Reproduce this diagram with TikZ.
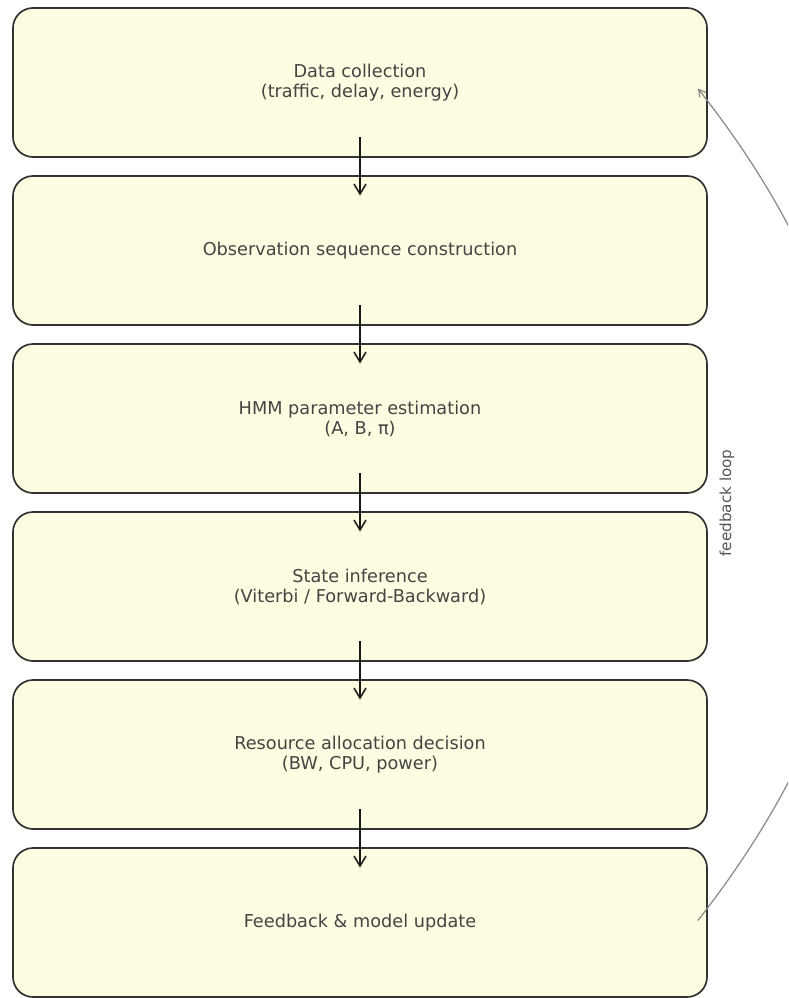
\documentclass[tikz,border=0pt]{standalone}
\usepackage{fontspec}
\setmainfont{DejaVu Sans}
\usetikzlibrary{arrows.meta}
\definecolor{boxfill}{HTML}{FFFDE1}
\definecolor{boxedge}{HTML}{333333}
\definecolor{txt}{HTML}{444444}
\definecolor{fbgray}{HTML}{888888}
\definecolor{fbtxt}{HTML}{555555}
\begin{document}
\begin{tikzpicture}[x=1pt,y=-1pt,
  stepbox/.style={draw=boxedge, line width=1.7pt, fill=boxfill, rounded corners=20pt,
    minimum width=694pt, minimum height=149pt, align=center, text=txt,
    font=\fontsize{17.7}{20}\selectfont, inner sep=0pt},
  flowarrow/.style={-{Straight Barb[length=10pt,width=12pt]}, line width=1.5pt, draw=black!90},
  fbarrow/.style={-{Straight Barb[length=7pt,width=8pt]}, line width=1.2pt, draw=fbgray},
  fblabel/.style={rotate=90, text=fbtxt, font=\fontsize{15.2}{17}\selectfont, inner sep=0pt}]
\useasboundingbox (0,0) rectangle (788,998);
\clip (0,0) rectangle (788,998);
\node[stepbox] (b1) at (360,82.5) {Data collection\\(traffic, delay, energy)};
\node[stepbox] (b2) at (360,250.5) {Observation sequence construction};
\node[stepbox] (b3) at (360,418.5) {HMM parameter estimation\\(A, B, π)};
\node[stepbox] (b4) at (360,586.5) {State inference\\(Viterbi / Forward-Backward)};
\node[stepbox] (b5) at (360,754.5) {Resource allocation decision\\(BW, CPU, power)};
\node[stepbox] (b6) at (360,922.5) {Feedback \& model update};
\foreach \a/\b in {b1/b2,b2/b3,b3/b4,b4/b5,b5/b6}{
  \draw[flowarrow] ([yshift=-54.5pt]\a.center) -- ([yshift=55pt]\b.center);
}
\coordinate (fbs) at ([xshift=-10pt,yshift=2pt]b6.east);
\coordinate (fbe) at ([xshift=-10pt,yshift=-6pt]b1.east);
\draw[fbarrow] (fbs) .. controls (916,642) and (916,365) .. (fbe);
\node[fblabel] (fbl) at (727,503) {feedback loop};
\end{tikzpicture}
\end{document}
